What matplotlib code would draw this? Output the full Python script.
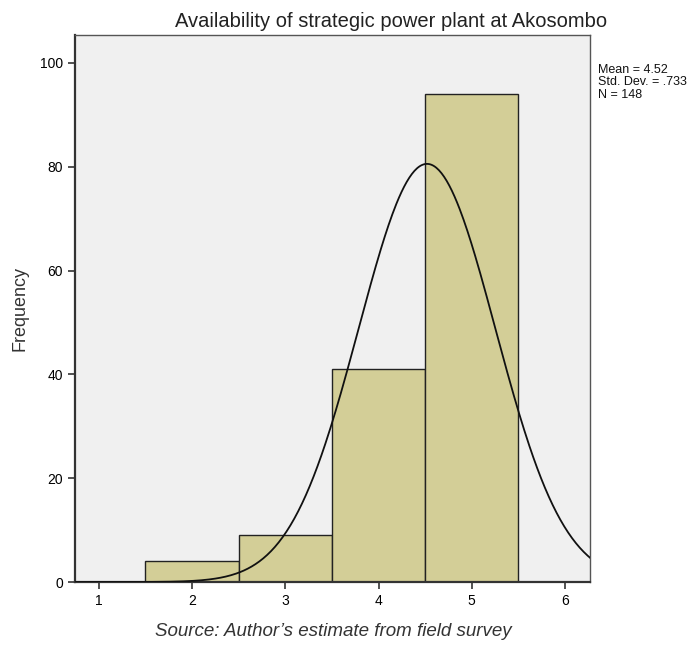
import numpy as np
import matplotlib.pyplot as plt

plt.rcParams['font.family'] = ['Liberation Sans', 'DejaVu Sans']

# === Data ===
bin_centers = [2, 3, 4, 5]
counts = [4, 9, 41, 94]
mean = 4.52
std = 0.733
n_total = 148
x_ticks = [1, 2, 3, 4, 5, 6]
y_ticks = [0, 20, 40, 60, 80, 100]

fig = plt.figure(figsize=(6.99, 6.46), dpi=100)
ax = fig.add_axes([0.107, 0.099, 0.737, 0.847])
ax.set_facecolor('#f0f0f0')

ax.bar(bin_centers, counts, width=1.0, color='#d3ce97', edgecolor='#222222', linewidth=1.0, zorder=2)

# normal curve scaled to counts (bin width 1)
xs = np.linspace(0.74, 6.27, 400)
ys = n_total * np.exp(-0.5 * ((xs - mean) / std) ** 2) / (std * np.sqrt(2 * np.pi))
ax.plot(xs, ys, color='#111111', linewidth=1.3, zorder=3)

ax.set_xlim(0.742, 6.268)
ax.set_ylim(0, 105.4)
ax.set_xticks(x_ticks)
ax.set_yticks(y_ticks)
ax.tick_params(direction='out', length=5, width=1.2, labelsize=10, color='#333333')

for side in ['left', 'bottom']:
    ax.spines[side].set_linewidth(1.6)
    ax.spines[side].set_color('#333333')
for side in ['top', 'right']:
    ax.spines[side].set_linewidth(1.0)
    ax.spines[side].set_color('#555555')

ax.set_ylabel('Frequency', fontsize=13, color='#333333', labelpad=8)

fig.text(0.56, 0.967, 'Availability of strategic power plant at Akosombo', fontsize=14.5,
         ha='center', va='center', color='#222222')
fig.text(0.855, 0.901, 'Mean = 4.52\nStd. Dev. = .733\nN = 148', fontsize=9,
         va='top', ha='left', linespacing=1.05, color='#111111')
fig.text(0.477, 0.022, 'Source: Author\u2019s estimate from field survey', fontsize=13.5,
         style='italic', ha='center', va='center', color='#333333')

plt.savefig('out.png', dpi=100)
